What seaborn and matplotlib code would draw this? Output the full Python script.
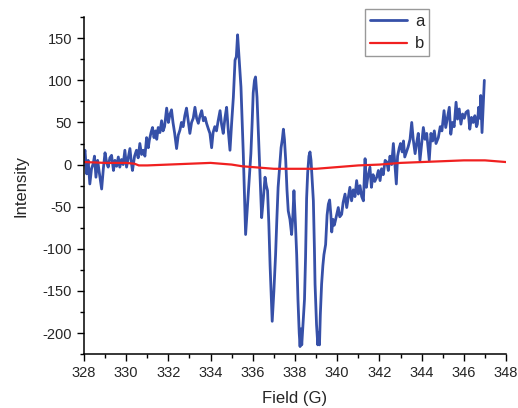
import seaborn as sns
import matplotlib.pyplot as plt
import pandas as pd

# spectrum a (noisy)
field_a = [328.00, 328.05, 328.13, 328.20, 328.28, 328.36, 328.44, 328.50, 328.57, 328.65,
           328.72, 328.84, 328.92, 329.00, 329.08, 329.15, 329.23, 329.31, 329.40, 329.47,
           329.55, 329.63, 329.70, 329.78, 329.86, 329.94, 330.02, 330.10, 330.18, 330.25,
           330.30, 330.40, 330.49, 330.57, 330.65, 330.73, 330.81, 330.89, 330.97, 331.05,
           331.10, 331.18, 331.25, 331.32, 331.40, 331.45, 331.52, 331.60, 331.68, 331.75,
           331.82, 331.92, 332.00, 332.08, 332.15, 332.22, 332.30, 332.39, 332.47, 332.55,
           332.62, 332.70, 332.78, 332.86, 332.94, 333.02, 333.10, 333.18, 333.26, 333.34,
           333.42, 333.50, 333.58, 333.66, 333.74, 333.81, 333.90, 333.97, 334.05, 334.12,
           334.20, 334.28, 334.36, 334.45, 334.52, 334.60, 334.68, 334.76, 334.84, 334.92,
           335.00, 335.08, 335.16, 335.22, 335.28, 335.34, 335.44, 335.55, 335.62, 335.66,
           335.72, 335.79, 335.85, 335.91, 335.97, 336.02, 336.08, 336.13, 336.20, 336.26,
           336.34, 336.42, 336.50, 336.58, 336.64, 336.70, 336.76, 336.82, 336.92, 337.00,
           337.08, 337.14, 337.20, 337.28, 337.34, 337.40, 337.45, 337.50, 337.56, 337.62,
           337.68, 337.76, 337.84, 337.90, 337.95, 338.02, 338.08, 338.14, 338.20, 338.24,
           338.28, 338.32, 338.38, 338.45, 338.50, 338.55, 338.60, 338.66, 338.71, 338.76,
           338.82, 338.87, 338.92, 338.95, 339.02, 339.08, 339.12, 339.16, 339.20, 339.26,
           339.32, 339.37, 339.45, 339.52, 339.58, 339.64, 339.70, 339.74, 339.80, 339.86,
           339.90, 339.97, 340.05, 340.12, 340.21, 340.28, 340.37, 340.45, 340.52, 340.60,
           340.68, 340.76, 340.84, 340.92, 341.00, 341.08, 341.16, 341.24, 341.32, 341.38,
           341.45, 341.55, 341.62, 341.70, 341.78, 341.87, 341.95, 342.03, 342.10, 342.18,
           342.27, 342.35, 342.42, 342.50, 342.58, 342.66, 342.72, 342.80, 342.86, 342.94,
           343.00, 343.08, 343.14, 343.20, 343.28, 343.36, 343.45, 343.53, 343.60, 343.69,
           343.76, 343.84, 343.92, 344.00, 344.08, 344.16, 344.24, 344.30, 344.36, 344.44,
           344.52, 344.60, 344.68, 344.79, 344.88, 344.96, 345.06, 345.14, 345.22, 345.31,
           345.38, 345.46, 345.54, 345.63, 345.70, 345.78, 345.86, 345.94, 346.02, 346.10,
           346.20, 346.28, 346.36, 346.44, 346.52, 346.60, 346.64, 346.70, 346.76, 346.80,
           346.86, 346.90, 346.97]
intensity_a = [10, 17, -11, 5, -23, -5, 1, 10, -15, 5,
               -8, -29, -5, 14, 2, -3, 8, 11, -7, 5,
               -2, 9, -3, 6, 0, 17, -3, 8, 19, 2,
               -7, 10, 17, 8, 25, 12, 17, 10, 32, 20,
               29, 38, 44, 32, 40, 30, 44, 38, 52, 40,
               45, 67, 50, 60, 65, 50, 37, 19, 35, 41,
               50, 45, 58, 67, 52, 37, 50, 55, 68, 55,
               49, 58, 64, 52, 56, 49, 42, 37, 20, 38,
               45, 40, 52, 64, 48, 37, 55, 68, 40, 17,
               50, 80, 124, 128, 154, 130, 92, 13, -50, -83,
               -60, -35, -10, 13, 50, 85, 100, 104, 80, 41,
               -10, -63, -40, -15, -25, -31, -70, -120, -186, -150,
               -107, -65, -27, 0, 20, 30, 42, 30, 5, -30,
               -55, -65, -83, -60, -31, -70, -107, -160, -200, -216,
               -195, -214, -190, -160, -110, -40, -10, 10, 15, 5,
               -20, -43, -100, -142, -190, -214, -200, -214, -178, -142,
               -120, -107, -95, -60, -47, -42, -60, -80, -65, -72,
               -68, -60, -51, -62, -59, -45, -35, -51, -40, -27,
               -43, -30, -38, -19, -35, -25, -38, -43, 7, -27,
               -15, -3, -27, -12, -20, -15, -7, -19, -5, -12,
               5, 3, -7, 10, 0, 25, 5, -23, 10, 20,
               25, 15, 28, 9, 15, 21, 30, 50, 30, 13,
               25, 37, 5, 25, 44, 30, 37, 21, 5, 37,
               28, 40, 25, 32, 45, 40, 64, 44, 55, 68,
               36, 50, 45, 74, 54, 66, 48, 60, 55, 62,
               64, 42, 56, 50, 58, 45, 48, 68, 55, 82,
               38, 60, 100]

# spectrum b (smooth baseline)
field_b = [328, 329, 330, 330.4, 330.6, 331, 332, 333, 334, 334.5, 335, 335.5, 336,
           336.5, 337, 338, 339, 340, 341, 342, 343, 344, 345, 346, 347, 347.5, 348]
intensity_b = [3, 2, 2, 1, -1, -1, 0, 1, 2, 1, 0, -2, -3,
               -4, -5, -5, -5, -3, -1, 0, 2, 3, 4, 5, 5, 4, 3]

df_a = pd.DataFrame({'Field': field_a, 'Intensity': intensity_a})
df_b = pd.DataFrame({'Field': field_b, 'Intensity': intensity_b})

sns.set_style('ticks')
plt.rcParams['font.family'] = ['Liberation Sans', 'DejaVu Sans']
plt.rcParams['axes.unicode_minus'] = False

fig = plt.figure(figsize=(5.18, 4.08), dpi=100)
ax = fig.add_axes([0.162, 0.132, 0.815, 0.826])

sns.lineplot(data=df_a, x='Field', y='Intensity', color='#3650a8', linewidth=2.0,
             label='a', ax=ax, sort=False)
sns.lineplot(data=df_b, x='Field', y='Intensity', color='#f02020', linewidth=1.6,
             label='b', ax=ax, sort=False)

ax.set_xlim(328, 348)
ax.set_ylim(-225, 175)
ax.set_xticks(range(328, 349, 2))
ax.set_xticks(range(328, 349, 1), minor=True)
ax.set_yticks(range(-200, 151, 50))
ax.set_yticks(range(-225, 176, 25), minor=True)
ax.tick_params(which='major', direction='out', length=5, width=1, labelsize=10.5, color='black')
ax.tick_params(which='minor', direction='out', length=3, width=1, color='black')
for s in ['left', 'bottom']:
    ax.spines[s].set_linewidth(1.1)
    ax.spines[s].set_color('black')
sns.despine(ax=ax)

ax.set_xlabel('Field (G)', fontsize=12, labelpad=8)
ax.set_ylabel('Intensity', fontsize=12, labelpad=10)

ax.legend(loc='upper right', bbox_to_anchor=(0.829, 0.978), bbox_transform=fig.transFigure,
          fontsize=12, frameon=True, fancybox=False, edgecolor='#808080',
          handlelength=2.2, handletextpad=0.5, borderpad=0.3, labelspacing=0.45,
          borderaxespad=0)

plt.savefig('out.png', dpi=100)
